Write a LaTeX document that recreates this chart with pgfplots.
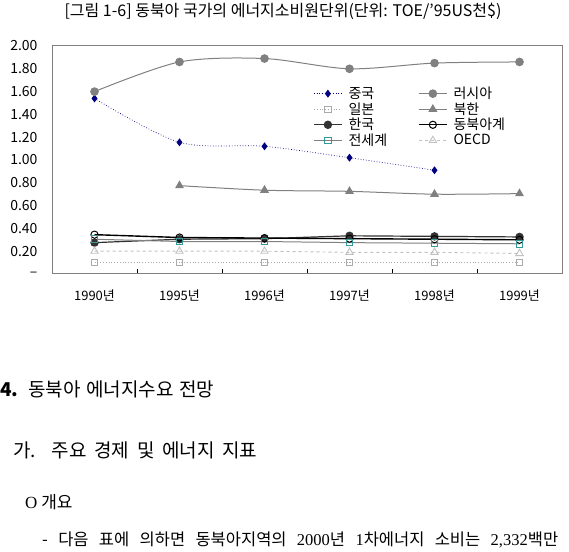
\documentclass[border=0pt]{standalone}
\usepackage{pgfplots}
\pgfplotsset{compat=1.18}
\usepackage{fontspec}
\setmainfont{Noto Sans CJK KR}
\newfontfamily\serifnum{Liberation Serif}
\definecolor{navy}{RGB}{0,0,128}
\definecolor{gr}{RGB}{128,128,128}
\definecolor{lgr}{RGB}{170,170,170}
\definecolor{llgr}{RGB}{192,192,192}
\definecolor{dk}{RGB}{51,51,51}
\definecolor{teal2}{RGB}{51,153,153}
\begin{document}
\begin{tikzpicture}[x=1pt,y=1pt]
\begin{axis}[
  at={(52pt,277pt)}, anchor=south west,
  scale only axis, width=510pt, height=228pt,
  xmin=-0.5, xmax=5.5, ymin=0, ymax=2,
  axis line style={gr, line width=1pt},
  tick pos=left, tick align=inside,
  xtick={0.5,1.5,2.5,3.5,4.5},
  xticklabels={},
  major tick length=5pt,
  x tick style={black, line width=0.9pt},
  extra x ticks={0,1,2,3,4,5},
  extra x tick labels={1990년,1995년,1996년,1997년,1998년,1999년},
  extra x tick style={major tick length=0pt},
  ytick={0,0.2,0.4,0.6,0.8,1,1.2,1.4,1.6,1.8,2},
  yticklabels={–,0.20,0.40,0.60,0.80,1.00,1.20,1.40,1.60,1.80,2.00},
  y tick style={draw=none},
  xticklabel style={font=\fontsize{13}{15}\selectfont, yshift=-12pt},
  yticklabel style={font=\fontsize{14}{16}\selectfont, xshift=-11pt},
  legend columns=2,
  legend cell align=left,
  legend style={draw=none, fill=none, at={(0.512,0.825)}, anchor=north west,
    font=\fontsize{14}{15}\selectfont, inner sep=0pt, row sep=0.5pt,
    nodes={inner sep=1pt},
    /tikz/every odd column/.append style={column sep=5pt},
    /tikz/every even column/.append style={column sep=30pt}},
  legend image code/.code={
    \draw[mark repeat=2,mark phase=2,#1] plot coordinates {(0pt,0pt)(14pt,0pt)(28pt,0pt)};
  },
  clip=false,
]
\addplot[navy, line width=0.7pt, dotted, smooth, mark=diamond*, mark size=3.4pt, mark options={solid, fill=navy}]
  coordinates {(0,1.54)(1,1.155)(2,1.12)(3,1.02)(4,0.91)};
\addlegendentry{중국}
\addplot[gr, line width=1pt, smooth, mark=*, mark size=3.8pt, mark options={solid, fill=gr}]
  coordinates {(0,1.60)(1,1.86)(2,1.89)(3,1.80)(4,1.85)(5,1.86)};
\addlegendentry{러시아}
\addplot[lgr, line width=0.8pt, dotted, mark=square, mark size=3.3pt, mark options={solid, fill=white}]
  coordinates {(0,0.10)(1,0.10)(2,0.10)(3,0.10)(4,0.10)(5,0.10)};
\addlegendentry{일본}
\addplot[gr, line width=1pt, smooth, mark=triangle*, mark size=4.2pt, mark options={solid, fill=gr}]
  coordinates {(1,0.775)(2,0.735)(3,0.725)(4,0.70)(5,0.705)};
\addlegendentry{북한}
\addplot[dk, line width=1.2pt, mark=*, mark size=3.6pt, mark options={solid, fill=dk}]
  coordinates {(0,0.275)(1,0.305)(2,0.31)(3,0.335)(4,0.33)(5,0.325)};
\addlegendentry{한국}
\addplot[black, line width=1.4pt, mark=o, mark size=3.6pt, mark options={solid, fill=white, line width=1pt}]
  coordinates {(0,0.345)(1,0.32)(2,0.315)(3,0.31)(4,0.305)(5,0.30)};
\addlegendentry{동북아계}
\addplot[gr, line width=1pt, mark=square, mark size=3.3pt, mark options={solid, teal2, fill=white, line width=1pt}]
  coordinates {(0,0.305)(1,0.285)(2,0.285)(3,0.275)(4,0.27)(5,0.265)};
\addlegendentry{전세계}
\addplot[llgr, line width=0.9pt, dashed, mark=triangle, mark size=4.2pt, mark options={solid, fill=white}]
  coordinates {(0,0.20)(1,0.20)(2,0.20)(3,0.19)(4,0.19)(5,0.18)};
\addlegendentry{OECD}
\end{axis}
\node[anchor=base, inner sep=0pt] at (283,534) {\fontsize{16}{18}\selectfont [그림 1-6] 동북아 국가의 에너지소비원단위(단위: TOE/'95US천\$)};
\node[anchor=base west, inner sep=0pt] at (0,154) {\fontsize{19}{22}\selectfont\makebox[214pt][s]{{\bfseries 4.} 동북아 에너지수요 전망}};
\node[anchor=base west, inner sep=0pt] at (13,94) {\fontsize{19}{22}\selectfont\makebox[244pt][s]{가. 주요 경제 및 에너지 지표}};
\node[anchor=base west, inner sep=0pt] at (25,43) {\fontsize{17}{20}\selectfont {\serifnum O} 개요};
\node[anchor=base west, inner sep=0pt] at (42,6) {\fontsize{16.5}{19}\selectfont\makebox[516pt][s]{- 다음 표에 의하면 동북아지역의 {\serifnum 2000}년 {\serifnum 1}차에너지 소비는 {\serifnum 2,332}백만}};
\pgfresetboundingbox
\useasboundingbox (0,0) rectangle (569,551);
\end{tikzpicture}
\end{document}
